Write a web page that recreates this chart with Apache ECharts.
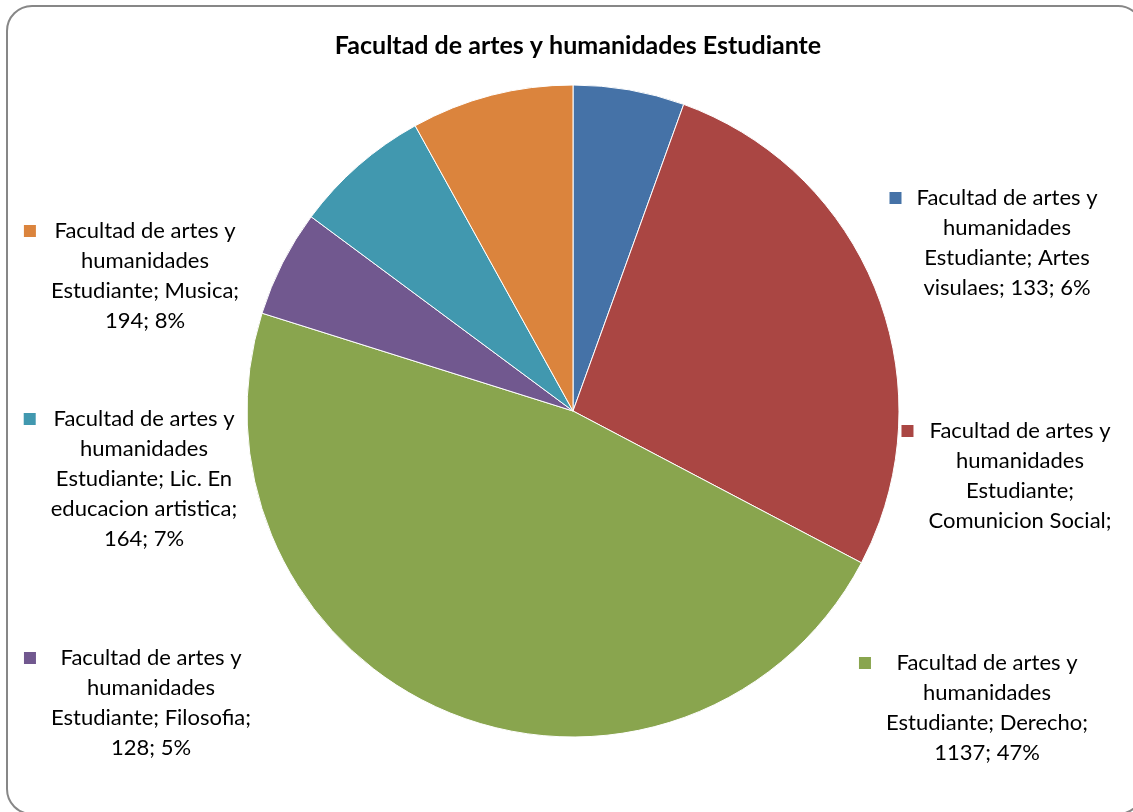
<!DOCTYPE html>
<html><head><meta charset="utf-8">
<script src="https://cdn.jsdelivr.net/npm/echarts@6/dist/echarts.min.js"></script>
<style>html,body{margin:0;padding:0;background:#fff}#c{width:1133px;height:812px}</style>
</head><body><div id="c"></div>
<script>
// ---- data ----
const chartTitle = 'Facultad de artes y humanidades Estudiante';
const seriesName = 'Facultad de artes y humanidades Estudiante';
const categories = ['Artes visulaes', 'Comunicion Social', 'Derecho', 'Filosofia', 'Lic. En educacion artistica', 'Musica'];
const values = [133, 656, 1137, 128, 164, 194];
// lines of each label that are visible (the Comunicion Social label is cut off in the original)
const labelMaxLines = [null, 4, null, null, null, null];

// ---- style / layout ----
const colors = ['#4572A7', '#AA4643', '#89A54E', '#71588F', '#4198AF', '#DB843D'];
const labelCenters = [[1007, 243], [1020, 476], [987, 708], [151, 703], [144, 479], [145, 276]];
const FONT_FAMILY = 'Lato';
const FONT_SIZE = 22;
const LINE_H = 30;
const WRAP_W = 215;
const SQ = 12;

const ctx = document.createElement('canvas').getContext('2d');
ctx.font = FONT_SIZE + 'px ' + FONT_FAMILY;
const measure = s => ctx.measureText(s).width;

function percents(vals) {
  const total = vals.reduce((a, b) => a + b, 0);
  const raw = vals.map(v => v / total * 100);
  const fl = raw.map(Math.floor);
  const rem = 100 - fl.reduce((a, b) => a + b, 0);
  const order = raw.map((r, i) => [r - fl[i], i]).sort((a, b) => b[0] - a[0]);
  for (let k = 0; k < rem; k++) fl[order[k][1]]++;
  return fl;
}
function wrap(text) {
  const words = text.split(' ');
  const lines = [];
  let cur = '';
  for (const w of words) {
    const t = cur ? cur + ' ' + w : w;
    if (cur && measure(t) > WRAP_W) { lines.push(cur); cur = w; } else cur = t;
  }
  if (cur) lines.push(cur);
  return lines;
}

const pct = percents(values);
const rich = {};
const labelTexts = categories.map((name, i) => {
  let lines = wrap(seriesName + '; ' + name + '; ' + values[i] + '; ' + pct[i] + '%');
  if (labelMaxLines[i]) lines = lines.slice(0, labelMaxLines[i]);
  const widths = lines.map(measure);
  const widest = Math.max.apply(null, widths);
  const gap = 15 + (widest - widths[0]) / 2;
  const base = { fontSize: FONT_SIZE, fontFamily: FONT_FAMILY, color: '#000', lineHeight: LINE_H, align: 'center' };
  rich['sq' + i] = { width: SQ, height: SQ, backgroundColor: colors[i], lineHeight: LINE_H, align: 'center' };
  rich['sp' + i] = { width: SQ, height: SQ, lineHeight: LINE_H, align: 'center' };
  rich['g' + i] = { width: gap, height: SQ, lineHeight: LINE_H, align: 'center' };
  rich.t = base;
  return lines.map((l, k) => k === 0
    ? '{sq' + i + '|}{g' + i + '|}{t|' + l + '}{g' + i + '|}{sp' + i + '|}'
    : '{t|' + l + '}').join('\n');
});

const chart = echarts.init(document.getElementById('c'), null, { renderer: 'canvas' });
chart.setOption({
  animation: false,
  backgroundColor: '#fff',
  color: colors,
  title: {
    text: chartTitle,
    left: 573,
    top: 28,
    textAlign: 'center',
    textStyle: { fontFamily: FONT_FAMILY, fontSize: 25, fontWeight: 'bold', color: '#000' }
  },
  graphic: [{
    type: 'rect', silent: true, z: -1,
    shape: { x: 7, y: 6, width: 1136, height: 808, r: 25 },
    style: { fill: 'none', stroke: '#878787', lineWidth: 2 }
  }],
  series: [{
    type: 'pie',
    name: seriesName,
    center: [573, 411],
    radius: 326,
    startAngle: 90,
    clockwise: true,
    avoidLabelOverlap: false,
    percentPrecision: 0,
    itemStyle: { borderColor: '#fff', borderWidth: 1 },
    emphasis: { disabled: true },
    label: {
      show: true,
      position: 'outside',
      formatter: p => labelTexts[p.dataIndex],
      rich: rich
    },
    labelLine: { show: false },
    labelLayout: p => ({ x: labelCenters[p.dataIndex][0], y: labelCenters[p.dataIndex][1], align: 'center', verticalAlign: 'middle' }),
    data: categories.map((c, i) => ({ name: c, value: values[i] }))
  }]
});
</script></body></html>
